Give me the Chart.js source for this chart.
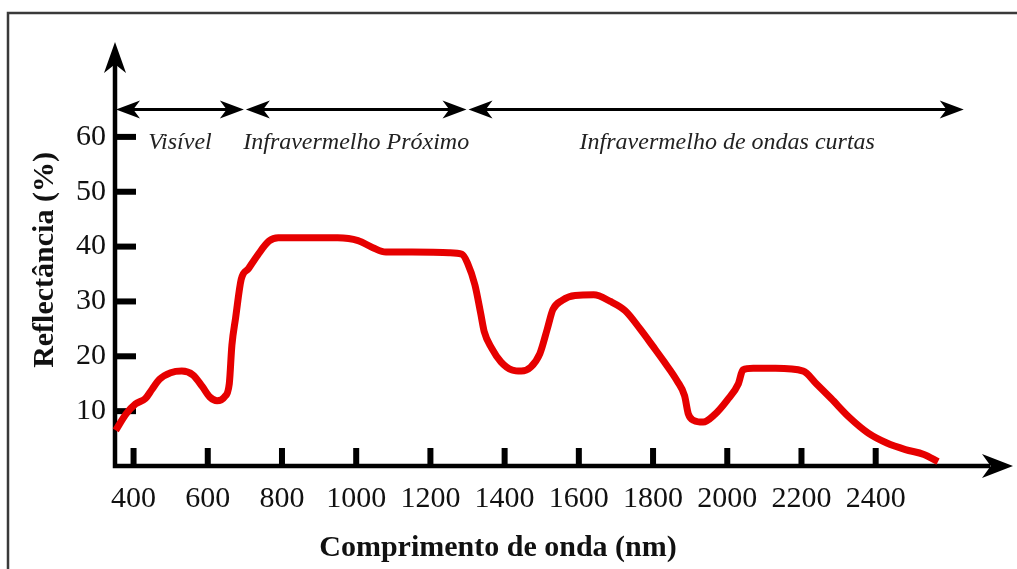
<!DOCTYPE html>
<html>
<head>
<meta charset="utf-8">
<script src="https://cdn.jsdelivr.net/npm/chart.js@4"></script>
<style>
  body { margin: 0; background: #fff; }
  #wrap { width: 1017px; height: 569px; }
</style>
</head>
<body>
<div id="wrap"><canvas id="myChart" width="1017" height="569"></canvas></div>
<script>
// curve: wavelength (nm) -> reflectance (%)
const wavelength = [352, 380, 405, 432, 450, 470, 500, 530, 560, 585, 605, 625, 645, 658, 665, 675, 690, 710, 735, 765,
    790, 850, 950, 1005, 1045, 1080, 1150, 1250, 1285, 1300, 1320, 1335, 1345, 1365, 1390, 1420, 1445, 1470, 1495, 1515,
    1530, 1555, 1590, 1640, 1685, 1725, 1765, 1800, 1830, 1865, 1885, 1895, 1910, 1935, 1965, 2000, 2030, 2042, 2070, 2130,
    2205, 2240, 2280, 2330, 2380, 2430, 2480, 2530, 2568];
const reflectance = [6.5, 9.5, 11.3, 12.3, 14, 15.8, 17, 17.3, 16.6, 14.5, 12.6, 11.9, 12.6, 15, 22, 27, 34, 36, 38.5, 41,
    41.6, 41.6, 41.6, 41.1, 39.8, 39, 39, 38.9, 38.6, 37, 33, 28, 24.5, 21.5, 19, 17.5, 17.3, 18, 20.5, 25,
    28.5, 30.2, 31.1, 31.2, 30, 28.3, 25, 21.8, 19, 15.5, 12.8, 9.5, 8.3, 8, 9.3, 12, 15, 17.5, 17.8, 17.8,
    17.3, 15, 12.3, 8.8, 6, 4.2, 3, 2.1, 0.8];

const xTicks = [400, 600, 800, 1000, 1200, 1400, 1600, 1800, 2000, 2200, 2400];
const yTicks = [10, 20, 30, 40, 50, 60];

// spectral regions shown with arrows above the curve
const rangeNames = ['Visível', 'Infravermelho Próximo', 'Infravermelho de ondas curtas'];
const rangeStart = [350, 700, 1300];
const rangeEnd = [700, 1300, 2640];
const rangeLabelAt = [525, 1000, 2000];
const rangeLevel = 65;

const xTitle = 'Comprimento de onda (nm)';
const yTitle = 'Reflectância (%)';

const SERIF = '"Liberation Serif", "Times New Roman", serif';

function arrowHead(ctx, x, y, dx, dy, len, half) {
    // tip at (x, y), pointing along (dx, dy)
    const bx = x - dx * len, by = y - dy * len;
    const nx = -dy, ny = dx;
    ctx.beginPath();
    ctx.moveTo(x, y);
    ctx.lineTo(bx + nx * half, by + ny * half);
    ctx.lineTo(x - dx * len * 0.72, y - dy * len * 0.72);
    ctx.lineTo(bx - nx * half, by - ny * half);
    ctx.closePath();
    ctx.fill();
}

const decorations = {
    id: 'decorations',
    beforeDraw(chart) {
        const ctx = chart.ctx;
        ctx.save();
        ctx.fillStyle = '#fff';
        ctx.fillRect(0, 0, chart.width, chart.height);
        // picture frame
        ctx.strokeStyle = '#3a3a3a';
        ctx.lineWidth = 2.5;
        ctx.beginPath();
        ctx.moveTo(8, chart.height + 5);
        ctx.lineTo(8, 13);
        ctx.lineTo(chart.width + 5, 13);
        ctx.stroke();
        ctx.restore();
    },
    beforeDatasetsDraw(chart) {
        const ctx = chart.ctx;
        const area = chart.chartArea;
        const xs = chart.scales.x, ys = chart.scales.y;
        const x0 = area.left, y0 = area.bottom;
        ctx.save();
        ctx.strokeStyle = '#000';
        ctx.fillStyle = '#000';

        // axes with arrows
        ctx.lineWidth = 4.5;
        ctx.beginPath();
        ctx.moveTo(x0, 60);
        ctx.lineTo(x0, y0);
        ctx.lineTo(990, y0);
        ctx.stroke();
        arrowHead(ctx, x0, 42, 0, -1, 31, 11);
        arrowHead(ctx, 1013, y0, 1, 0, 31, 12);

        // tick marks drawn inside the plot
        xTicks.forEach(v => {
            const px = xs.getPixelForValue(v);
            ctx.fillRect(px - 3, y0 - 18, 6, 18);
        });
        yTicks.forEach(v => {
            const py = ys.getPixelForValue(v);
            ctx.fillRect(x0, py - 3, 21, 6);
        });

        // region arrows + labels
        const ay = ys.getPixelForValue(rangeLevel);
        ctx.lineWidth = 3;
        ctx.font = 'italic 24px ' + SERIF;
        ctx.textAlign = 'center';
        ctx.textBaseline = 'alphabetic';
        for (let i = 0; i < rangeNames.length; i++) {
            const a = xs.getPixelForValue(rangeStart[i]);
            const b = xs.getPixelForValue(rangeEnd[i]);
            ctx.beginPath();
            ctx.moveTo(a + 10, ay);
            ctx.lineTo(b - 10, ay);
            ctx.stroke();
            arrowHead(ctx, a + 1, ay, -1, 0, 24, 9);
            arrowHead(ctx, b - 1, ay, 1, 0, 24, 9);
            ctx.fillStyle = '#222';
            ctx.fillText(rangeNames[i], xs.getPixelForValue(rangeLabelAt[i]), ay + 40);
            ctx.fillStyle = '#000';
        }

        // axis titles
        ctx.font = 'bold 30px ' + SERIF;
        ctx.fillStyle = '#111';
        ctx.fillText(xTitle, 498, 556);
        ctx.translate(53, 260);
        ctx.rotate(-Math.PI / 2);
        ctx.fillText(yTitle, 0, 0);
        ctx.restore();
    }
};

const points = wavelength.map((w, i) => ({ x: w, y: reflectance[i] }));

const ctx = document.getElementById('myChart').getContext('2d');
const myChart = new Chart(ctx, {
    type: 'line',
    data: {
        datasets: [{
            label: 'Reflectância',
            data: points,
            borderColor: '#e60000',
            borderWidth: 7,
            pointRadius: 0,
            fill: false,
            cubicInterpolationMode: 'monotone',
            clip: 10
        }]
    },
    plugins: [decorations],
    options: {
        responsive: false,
        animation: false,
        layout: { padding: { left: 0, top: 42, right: 17, bottom: 0 } },
        plugins: {
            legend: { display: false },
            tooltip: { enabled: false }
        },
        scales: {
            x: {
                type: 'linear',
                min: 350,
                max: 2735,
                afterBuildTicks: (scale) => { scale.ticks = xTicks.map(v => ({ value: v })); },
                afterFit: (scale) => { scale.height = 103; },
                grid: { display: false },
                border: { display: false },
                ticks: {
                    color: '#111',
                    padding: 7,
                    maxRotation: 0,
                    autoSkip: false,
                    font: { family: SERIF, size: 30 },
                    callback: (v) => String(v)
                }
            },
            y: {
                min: 0,
                max: 77.3,
                afterBuildTicks: (scale) => { scale.ticks = yTicks.map(v => ({ value: v })); },
                afterFit: (scale) => { scale.width = 115; },
                grid: { display: false },
                border: { display: false },
                ticks: {
                    color: '#111',
                    padding: 1,
                    autoSkip: false,
                    font: { family: SERIF, size: 30 },
                    callback: (v) => String(v)
                }
            }
        }
    }
});
</script>
</body>
</html>
